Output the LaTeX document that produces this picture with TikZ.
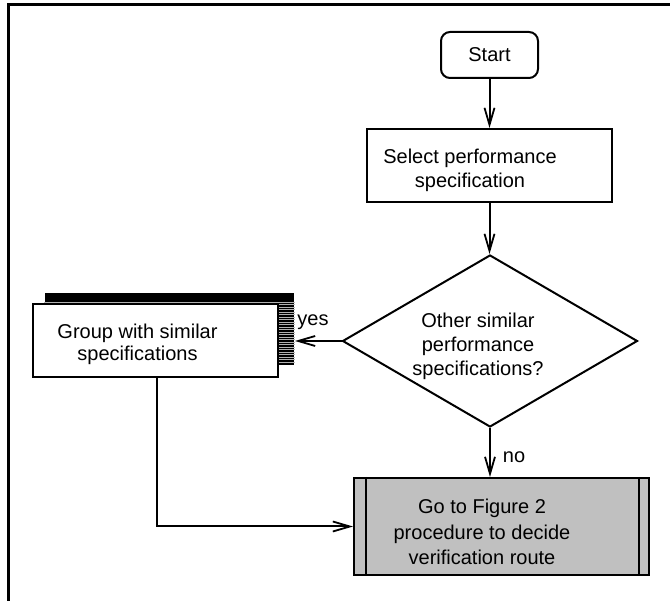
\documentclass[tikz,border=0pt]{standalone}
\usepackage{fontspec}
\setmainfont{Liberation Sans}
\usetikzlibrary{arrows.meta,shapes.geometric}
\definecolor{procgray}{RGB}{192,192,192}
\begin{document}
\begin{tikzpicture}[x=1pt,y=-1pt,
  line width=2pt,
  txt/.style={font=\fontsize{20}{24}\selectfont, align=center, inner sep=0},
  box/.style={draw, rectangle, inner sep=0, fill=white},
  arr/.style={-{Straight Barb[length=17pt,width=10pt,line width=1.8pt]}},
]
\useasboundingbox (0,0) rectangle (670,601);
\draw[line width=3pt] (8,601) -- (8,5) -- (670,5);

\node[box, rounded corners=9pt, minimum width=97pt, minimum height=46pt, font=\fontsize{20}{24}\selectfont] (start) at (489.5,55) {Start};

\node[box, minimum width=245pt, minimum height=73pt] (select) at (489.5,165.5) {};
\node[txt] (selecttxt) at (470,170) {Select performance\\specification};

\node[draw, diamond, minimum width=295pt, minimum height=172pt, inner sep=0] (dia) at (490,341) {};
\node[txt] (diatxt) at (478,346) {Other similar\\performance\\specifications?};

\node[fill=black, minimum width=249pt, minimum height=72pt, inner sep=0] (shadow) at (169.5,329) {};
\foreach \k in {4,...,28}
  \draw[gray!60, line width=0.35pt] ([yshift=-\k*2.5pt]shadow.north west) -- ([yshift=-\k*2.5pt]shadow.north east);

\node[box, minimum width=245pt, minimum height=73pt] (group) at (155.5,340.5) {};
\node[txt, font=\fontsize{20}{22}\selectfont] (grouptxt) at (137.5,344) {Group with similar\\specifications};

\node[box, fill=procgray, minimum width=295pt, minimum height=97pt] (proc) at (501.5,526.5) {};
\draw ([xshift=13pt]proc.north west) -- ([xshift=13pt]proc.south west);
\draw ([xshift=-11pt]proc.north east) -- ([xshift=-11pt]proc.south east);
\node[txt, font=\fontsize{20}{25.5}\selectfont] (proctxt) at (482,532) {Go to Figure 2\\procedure to decide\\verification route};

\draw[arr] (start) -- (select);
\draw[arr] (select.south) -- (select.south |- dia.north);
\draw[arr] (dia.west) -- (dia.west -| shadow.east);
\node[txt] (yes) at (313,322) {yes};
\draw[arr] (dia.south) -- (dia.south |- proc.north);
\node[txt] (no) at (514,457) {no};
\draw[arr] ([xshift=1.5pt]group.south) |- (proc.west);
\end{tikzpicture}
\end{document}
